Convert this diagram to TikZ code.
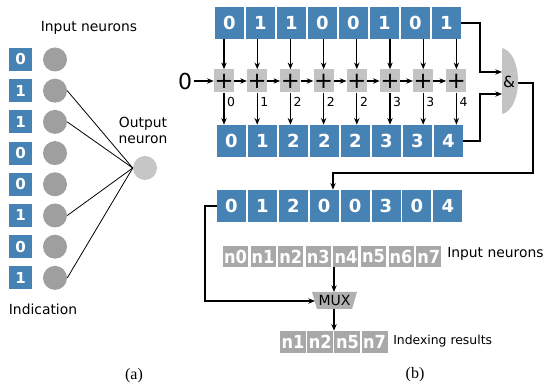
\documentclass[tikz,border=0pt]{standalone}
\usepackage{fontspec}
\setmainfont{DejaVu Sans}
\newfontfamily\dvc{DejaVu Sans Condensed}
\newfontfamily\serifb{Liberation Serif}
\usetikzlibrary{arrows.meta}
\definecolor{sblue}{HTML}{4682B4}
\definecolor{cgray}{HTML}{9F9F9F}
\definecolor{ogray}{HTML}{C6C6C6}
\definecolor{lgray}{HTML}{C3C3C3}
\definecolor{ngray}{HTML}{A8A8A8}
\definecolor{mgray}{HTML}{B0B0B0}
\begin{document}
\begin{tikzpicture}[x=0.75pt,y=-0.75pt,
 bluebox/.style={fill=sblue, text=white, font=\bfseries\fontsize{13.5}{14}\selectfont, minimum width=21.75pt, minimum height=24pt, inner sep=0},
 smallblue/.style={bluebox, minimum width=17.25pt, minimum height=17.25pt, font=\bfseries\fontsize{11.3}{12}\selectfont},
 neuron/.style={circle, fill=cgray, minimum size=18pt, inner sep=0},
 plusbox/.style={fill=lgray, minimum width=15pt, minimum height=17.25pt, inner sep=0, font=\fontsize{17}{17}\selectfont},
 nbox/.style={fill=ngray, text=white, font=\dvc\bfseries\fontsize{13.5}{14}\selectfont, minimum width=18.75pt, minimum height=15.75pt, inner sep=0},
 arr/.style={-{Stealth[length=5pt,width=4pt]}, line width=0.8pt},
 lbl/.style={font=\fontsize{10.4}{12.5}\selectfont, inner sep=0},
 small/.style={font=\fontsize{9.3}{10}\selectfont},
 captxt/.style={font=\serifb\fontsize{12}{13}\selectfont},
]
\useasboundingbox (0,0) rectangle (547,384);

% ---------- panel (a) ----------
\foreach \v [count=\i from 0] in {0,1,1,0,0,1,0,1} {
  \node[smallblue] (a\i) at (20.5,{59.5+31.2*\i}) {\v};
  \node[neuron] (c\i) at (55,{59.5+31.2*\i}) {};
}
\node[neuron, fill=ogray] (out) at (145,168) {};
\foreach \i in {1,2,5,7} \draw[line width=0.6pt] (c\i.east) -- (out.west);
\node[lbl] (inA) at (89,28) {Input neurons};
\node[lbl, align=center] (outl) at (143,130.5) {Output\\neuron};
\node[lbl] (indl) at (43,309) {Indication};
\node[captxt] (la) at (134,376) {(a)};

% ---------- panel (b) ----------
\foreach \v [count=\i from 0] in {0,1,1,0,0,1,0,1}
  \node[bluebox] (t\i) at ({229.5+31*\i},23) {\v};
\foreach \v [count=\i from 0] in {0,1,2,2,2,3,3,4}
  \node[bluebox] (b\i) at ({231.5+31*\i},141) {\v};
\foreach \i in {0,...,7}
  \node[plusbox] (p\i) at ({224+33.2*\i},81) {+};
\foreach \i in {0,...,7}
  \draw[arr] (p\i |- t\i.south) -- (p\i.north);
\foreach \i [evaluate=\i as \j using int(\i+1)] in {0,...,6}
  \draw[arr] (p\i.east) -- (p\j.west);
\foreach \v [count=\i from 0] in {0,1,2,2,2,3,3,4}
  \draw[arr] (p\i.south) -- (p\i |- b\i.north) node[pos=0.29, right, inner sep=2pt, small] {\v};
\node[font=\fontsize{16.5}{17}\selectfont, inner sep=1pt] (zero) at (185,81) {0};
\draw[arr] (zero.east) -- (p0.west);

% AND gate
\fill[lgray] (502,48) .. controls (512,50) and (518,65) .. (518,81) .. controls (518,97) and (512,112) .. (502,114) -- cycle;
\node[font=\fontsize{11.5}{12}\selectfont, inner sep=0] (gate) at (509,82) {\&};
\coordinate (gin1) at (502,72);
\coordinate (gin2) at (502,94);
\coordinate (gout) at (518,83);
\coordinate (jx) at (480,0);
\draw[arr] (t7.east) -- (t7.east -| jx) |- (gin1);
\draw[arr] (b7.east) -- (b7.east -| jx) |- (gin2);

% third row
\foreach \v [count=\i from 0] in {0,1,2,0,0,3,0,4}
  \node[bluebox] (r\i) at ({231.5+30.9*\i},206) {\v};
\coordinate (gx) at (533,173);
\coordinate (dn) at (333,173);
\draw[arr] (gout) -| (gx) -- (dn) -- (dn |- r3.north);

% neurons row
\foreach \i in {0,...,7}
  \node[nbox] (g\i) at ({235.5+27.6*\i},256.5) {n\i};
\node[lbl, anchor=west] (inl) at (447,254) {Input neurons};

% MUX
\fill[mgray] (312,292) -- (357,292) -- (352,309) -- (317,309) -- cycle;
\node[font=\fontsize{10.5}{11}\selectfont, inner sep=0] (mux) at (334.5,300.5) {MUX};
\coordinate (mt) at (334,292);
\coordinate (mb) at (334,309);
\coordinate (muxin) at (315,301);
\coordinate (lx) at (205,0);
\draw[arr] (mt |- g4.south) -- (mt);
\draw[arr] (r0.west) -- (r0.west -| lx) |- (muxin);

% results
\foreach \v [count=\i from 0] in {1,2,5,7}
  \node[nbox, minimum width=19.5pt, minimum height=16.5pt] (s\i) at ({293+27.2*\i},342) {n\v};
\draw[arr] (mb) -- (mb |- s1.north);
\node[small, anchor=west, inner sep=0] (ir) at (393,341) {Indexing results};
\node[captxt] (lb) at (415,375) {(b)};
\end{tikzpicture}
\end{document}
